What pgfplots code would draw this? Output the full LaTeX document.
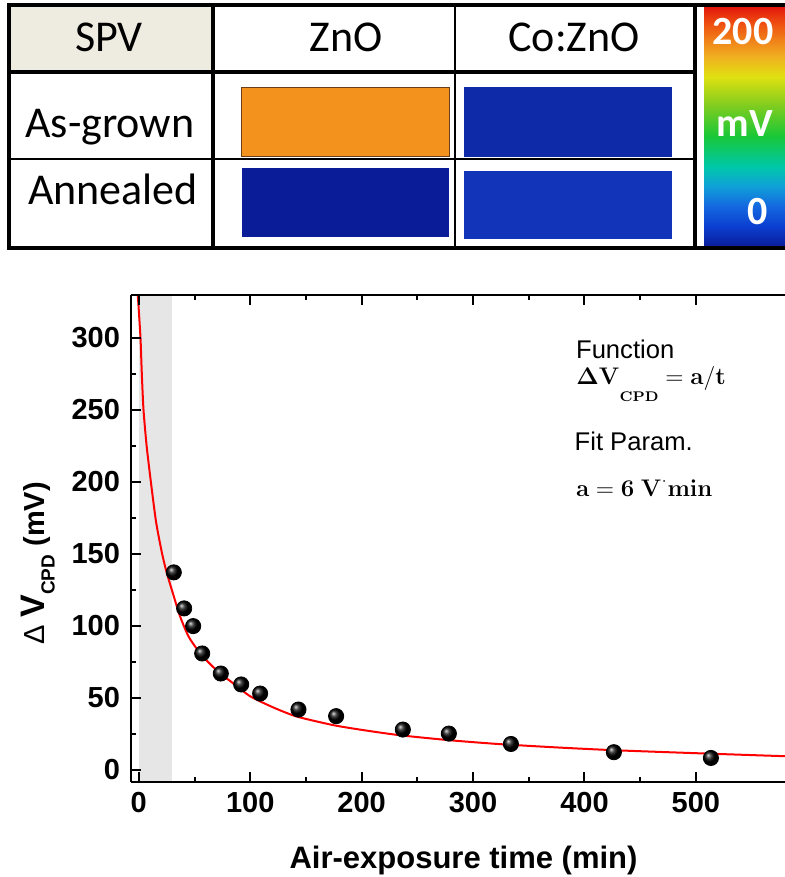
\documentclass[border=0pt]{standalone}
\usepackage[no-math]{fontspec}
\setmainfont{Liberation Sans}
\newfontfamily\calibri{Carlito}
\usepackage{pgfplots}
\pgfplotsset{compat=1.18}
\definecolor{spvbg}{HTML}{EEECE1}
\definecolor{orangeC}{HTML}{F4921E}
\definecolor{orangeD}{HTML}{6A3E18}
\definecolor{blueA}{HTML}{0B1C98}
\definecolor{blueB}{HTML}{0E2AA8}
\definecolor{blueC}{HTML}{1234B8}
\definecolor{bandgray}{HTML}{E6E6E6}
\definecolor{cb0}{HTML}{0A1E9C}
\definecolor{cb1}{HTML}{0B3FD0}
\definecolor{cb2}{HTML}{1468E0}
\definecolor{cb3}{HTML}{10A0D8}
\definecolor{cb4}{HTML}{00C8A8}
\definecolor{cb5}{HTML}{18C838}
\definecolor{cb6}{HTML}{7CCC20}
\definecolor{cb7}{HTML}{E0E010}
\definecolor{cb8}{HTML}{F0B020}
\definecolor{cb9}{HTML}{F07818}
\definecolor{cb10}{HTML}{EE4A10}
\definecolor{cb11}{HTML}{E2180C}
\pgfdeclareverticalshading{cbar}{100bp}{color(0bp)=(cb0); color(25bp)=(cb0); color(29.17bp)=(cb1); color(33.33bp)=(cb2); color(37.5bp)=(cb3); color(41.67bp)=(cb4); color(47.92bp)=(cb5); color(54.17bp)=(cb6); color(60.42bp)=(cb7); color(64.58bp)=(cb8); color(68.75bp)=(cb9); color(71.88bp)=(cb10); color(75bp)=(cb11); color(100bp)=(cb11)}
\newcommand\fitfunc{$\mathbf{\Delta V}$\raisebox{-8.5pt}{\fontsize{7}{7}\selectfont$\mathbf{CPD}$}$\;\mathbf{=a/t}$}
\newcommand\fitpar{$\mathbf{a=6\ V}^{\cdot}\mathbf{min}$}
\begin{document}
\begin{tikzpicture}
\useasboundingbox (0,0) rectangle (392.5pt,-438.5pt);
\begin{scope}[x=0.5pt,y=-0.5pt]
\fill[spvbg] (9,5) rectangle (213,72);
\filldraw[fill=orangeC, draw=orangeD, line width=0.4pt] (241.7,87) rectangle (449.3,156);
\fill[blueA] (241.7,168) rectangle (449.3,237);
\fill[blueB] (464,87) rectangle (672,157);
\fill[blueC] (464,171) rectangle (672,239);
\shade[shading=cbar] (704,7) rectangle (790,246);
\draw[line width=2pt] (9,5) rectangle (800,248);
\draw[line width=2pt] (9,72) -- (695,72);
\draw[line width=1.2pt] (9,159) -- (695,159);
\draw[line width=1.7pt] (213,5) -- (213,248);
\draw[line width=1.3pt] (455,5) -- (455,248);
\draw[line width=1.6pt] (695,5) -- (695,248);
\begin{scope}[every node/.style={inner sep=0, anchor=base, font=\calibri\fontsize{22}{22}\selectfont}]
\node at (109,52) {SPV};
\node at (346,52) {ZnO};
\node at (574,52) {Co:ZnO};
\node at (110,138) {As-grown};
\node at (113,205) {Annealed};
\end{scope}
\begin{scope}[every node/.style={inner sep=0, anchor=base, text=white, font=\calibri\bfseries\fontsize{20}{20}\selectfont}]
\node at (743,45) {200};
\node at (745,137) {mV};
\node at (758,225) {0};
\end{scope}
\node[anchor=base west, inner sep=0, font=\fontsize{12.8}{12.8}\selectfont] at (575.7,358) {Function};
\node[anchor=base west, inner sep=0, font=\fontsize{12}{12}\selectfont] at (576,384) {\fitfunc};
\node[anchor=base west, inner sep=0, font=\fontsize{12.8}{12.8}\selectfont] at (574.3,450) {Fit Param.};
\node[anchor=base west, inner sep=0, font=\fontsize{12}{12}\selectfont] at (575.7,496) {\fitpar};
\end{scope}
\begin{axis}[
 at={(65.5pt,-391pt)}, anchor=south west,
 scale only axis, width=327pt, height=243.5pt,
 xmin=-7, xmax=580, ymin=-8.5, ymax=329.5,
 axis x line*=box, axis y line*=left,
 axis on top,
 tick align=inside,
 major tick length=5pt, minor tick length=2.5pt,
 xtick={0,100,...,500}, ytick={0,50,...,300},
 minor x tick num=1, minor y tick num=1,
 every tick/.style={black, line width=1pt},
 axis line style={line width=1pt},
 /pgf/number format/assume math mode=true,
 tick label style={font=\fontsize{14.5}{14.5}\selectfont\bfseries},
 xticklabel style={yshift=-1.5pt},
 yticklabel style={xshift=-2pt},
 xlabel={Air-exposure time (min)},
 xlabel style={at={(axis description cs:0.5084,-0.1766)}, anchor=base, font=\fontsize{15.5}{15.5}\selectfont\bfseries},
 ylabel={\fontsize{14.5}{14.5}\selectfont\mdseries Δ\ {\bfseries\fontsize{17}{17}\selectfont V}\raisebox{-5pt}{\bfseries\fontsize{9.5}{9.5}\selectfont CPD}\ \bfseries (mV)},
 ylabel style={at={(axis description cs:-0.1422,0.4487)}, anchor=center},
]
\addplot[draw=none, fill=bandgray] coordinates {(0.5,-8.5) (30,-8.5) (30,329.5) (0.5,329.5)} -- cycle;
\addplot[red, line width=1pt, smooth, tension=0.4] coordinates {
(-0.9,329.5) (1.5,300) (2.7,275) (4.2,250) (7,225) (10.8,200) (15.5,172) (20.9,150) (25,137) (30,124) (36.8,107) (44.3,93) (52,84) (60.7,76) (72,67.5) (84.7,60) (100,51) (120,43.5) (141.5,37) (174.4,31) (200,27.7) (234,24) (279,20.5) (324,17.8) (380,15.3) (428.8,13.5) (500,11.5) (580,9.4)};
\addplot[only marks, mark=ball, mark size=3.8pt, mark options={ball color=black}] coordinates {
(31.4,137) (40.7,112) (48.8,99.7) (56.9,80.7) (73.6,66.8) (91.9,59.2) (108.9,52.9) (143.3,41.8) (177.1,37.2) (237,27.9) (278.3,25.1) (334,17.9) (426.4,12.2) (513.5,8.2)};
\end{axis}
\end{tikzpicture}
\end{document}
